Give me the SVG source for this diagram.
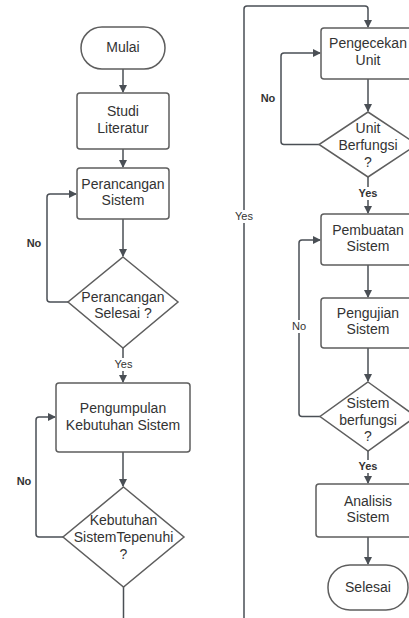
<svg xmlns="http://www.w3.org/2000/svg" width="409" height="618" viewBox="0 0 409 618">
<style>
.s{fill:#fff;stroke:#5e5e5e;stroke-width:1.5}
.t{font-family:"Liberation Sans",Arial,sans-serif;font-size:14px;fill:#333;text-anchor:middle}
.l{font-family:"Liberation Sans",Arial,sans-serif;font-size:11px;fill:#333;text-anchor:middle}
.b{font-weight:bold}
.c{fill:none;stroke:#4a4f55;stroke-width:1.5}
</style>
<defs>
<marker id="a" markerWidth="8" markerHeight="8" refX="7" refY="4" orient="auto" markerUnits="userSpaceOnUse">
<path d="M0,0 L8,4 L0,8 Z" fill="#4a4f55"/>
</marker>
</defs>
<rect width="409" height="618" fill="#fff"/>
<g id="connectors">
<path class="c" d="M123,69 V92" marker-end="url(#a)"/>
<path class="c" d="M123,149 V167" marker-end="url(#a)"/>
<path class="c" d="M123,219 V256" marker-end="url(#a)"/>
<path class="c" d="M68,302 H50 Q47,302 47,299 V197 Q47,194 50,194 H76" marker-end="url(#a)"/>
<path class="c" d="M123,348 V382" marker-end="url(#a)"/>
<path class="c" d="M123,452 V486" marker-end="url(#a)"/>
<path class="c" d="M63,537 H39 Q36,537 36,534 V420 Q36,417 39,417 H55" marker-end="url(#a)"/>
<path class="c" d="M123.5,587 V630 H244 V9 Q244,6 247,6 H365 Q368,6 368,9 V27" marker-end="url(#a)"/>
<path class="c" d="M368,79 V111" marker-end="url(#a)"/>
<path class="c" d="M319,144.5 H284 Q281,144.5 281,141.5 V56 Q281,53 284,53 H320" marker-end="url(#a)"/>
<path class="c" d="M368,177 V213" marker-end="url(#a)"/>
<path class="c" d="M368,265 V297" marker-end="url(#a)"/>
<path class="c" d="M368,348 V381" marker-end="url(#a)"/>
<path class="c" d="M320,416.5 H302 Q299,416.5 299,413.5 V243 Q299,240 302,240 H320" marker-end="url(#a)"/>
<path class="c" d="M368,451 V483" marker-end="url(#a)"/>
<path class="c" d="M368,537 V564" marker-end="url(#a)"/>
<g id="labels">
<text class="l b" x="34" y="247">No</text>
<rect x="112" y="358" width="23" height="13" fill="#fff"/>
<text class="l" x="123.5" y="368">Yes</text>
<text class="l b" x="24" y="485">No</text>
<text class="l b" x="268" y="102">No</text>
<rect x="356" y="187" width="24" height="13" fill="#fff"/>
<text class="l b" x="368" y="197">Yes</text>
<rect x="233" y="210" width="23" height="13" fill="#fff"/>
<text class="l" x="244" y="220">Yes</text>
<rect x="290" y="320" width="18" height="13" fill="#fff"/>
<text class="l" x="299" y="330">No</text>
<rect x="356" y="460" width="24" height="13" fill="#fff"/>
<text class="l b" x="368" y="470">Yes</text>
</g>
</g>
<g id="mulai">
<rect class="s" x="81" y="27" width="84" height="42" rx="21"/>
<text class="t" x="123" y="52">Mulai</text>
</g>
<g id="studi">
<rect class="s" x="77" y="93" width="92" height="56" rx="3"/>
<text class="t" x="123" y="116">Studi</text>
<text class="t" x="123" y="133">Literatur</text>
</g>
<g id="perancangan">
<rect class="s" x="77" y="168" width="92" height="51" rx="3"/>
<text class="t" x="123" y="189">Perancangan</text>
<text class="t" x="123" y="205">Sistem</text>
</g>
<g id="perancangan-selesai">
<polygon class="s" points="123,257 178,302 123,348 68,302"/>
<text class="t" x="123" y="302">Perancangan</text>
<text class="t" x="123" y="318">Selesai ?</text>
</g>
<g id="pengumpulan">
<rect class="s" x="56" y="383" width="134" height="69" rx="3"/>
<text class="t" x="123" y="413">Pengumpulan</text>
<text class="t" x="123" y="430">Kebutuhan Sistem</text>
</g>
<g id="kebutuhan-terpenuhi">
<polygon class="s" points="123.5,487 184,537 123.5,587 63,537"/>
<text class="t" x="123.5" y="525">Kebutuhan</text>
<text class="t" x="123.5" y="542">SistemTepenuhi</text>
<text class="t" x="123.5" y="559">?</text>
</g>
<g id="pengecekan">
<rect class="s" x="321" y="28" width="94" height="51" rx="3"/>
<text class="t" x="368" y="48">Pengecekan</text>
<text class="t" x="368" y="65">Unit</text>
</g>
<g id="unit-berfungsi">
<polygon class="s" points="368,112 417,144.5 368,177 319,144.5"/>
<text class="t" x="368" y="133">Unit</text>
<text class="t" x="368" y="150">Berfungsi</text>
<text class="t" x="368" y="167">?</text>
</g>
<g id="pembuatan">
<rect class="s" x="321" y="214" width="94" height="51" rx="3"/>
<text class="t" x="368" y="235">Pembuatan</text>
<text class="t" x="368" y="251">Sistem</text>
</g>
<g id="pengujian">
<rect class="s" x="321" y="298" width="94" height="50" rx="3"/>
<text class="t" x="368" y="318">Pengujian</text>
<text class="t" x="368" y="334">Sistem</text>
</g>
<g id="sistem-berfungsi">
<polygon class="s" points="368,382 416,416.5 368,451 320,416.5"/>
<text class="t" x="368" y="408">Sistem</text>
<text class="t" x="368" y="425">berfungsi</text>
<text class="t" x="368" y="441">?</text>
</g>
<g id="analisis">
<rect class="s" x="316" y="484" width="104" height="53" rx="3"/>
<text class="t" x="368" y="506">Analisis</text>
<text class="t" x="368" y="522">Sistem</text>
</g>
<g id="selesai">
<rect class="s" x="328" y="565" width="80" height="45" rx="22"/>
<text class="t" x="368" y="592">Selesai</text>
</g>
</svg>
